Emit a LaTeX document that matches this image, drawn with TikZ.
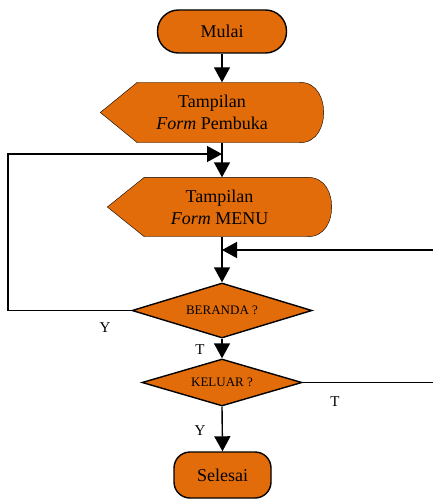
\documentclass[tikz,border=0pt]{standalone}
\usepackage{fontspec}
\setmainfont{Liberation Serif}
\usetikzlibrary{shapes.geometric,arrows.meta,backgrounds}
\definecolor{oranye}{HTML}{E36C0A}
\newcommand{\dispshape}[1]{\filldraw[box] (#1.west) -- ([xshift=37pt]#1.north west) -- ([xshift=-24pt]#1.north east) .. controls ([xshift=-6pt]#1.north east) and ([yshift=13pt]#1.east) .. (#1.east) .. controls ([yshift=-13pt]#1.east) and ([xshift=-6pt]#1.south east) .. ([xshift=-24pt]#1.south east) -- ([xshift=37pt]#1.south west) -- cycle;}

\begin{document}
\begin{tikzpicture}[x=1pt, y=-1pt, line width=1.4pt,
  box/.style = {draw, fill=oranye},
  term/.style = {box, rounded corners=21pt, minimum width=129pt, minimum height=43pt, font=\fontsize{18}{22}\selectfont},
  disp/.style = {align=center, font=\fontsize{18}{22}\selectfont},
  cek/.style = {box, diamond, inner sep=0pt, font=\fontsize{13}{15}\selectfont},
  lbl/.style = {font=\fontsize{15}{17}\selectfont},
  arr/.style = {-{Triangle[length=15pt,width=16pt]}}]
\useasboundingbox (0,0) rectangle (433,500);
\node[term] (mulai) at (222,31.5) {Mulai};
\node[disp, minimum width=222pt, minimum height=59pt] (pembuka) at (212,112.5) {Tampilan\\\textit{Form} Pembuka};
\node[disp, minimum width=223pt, minimum height=58pt] (menu) at (219.5,207) {Tampilan\\\textit{Form} MENU};
\node[cek, aspect=3.3, minimum width=180pt, minimum height=55pt] (beranda) at (222,310.5) {BERANDA ?};
\node[cek, aspect=3.4, minimum width=160pt, minimum height=47pt] (keluar) at (222,382.5) {KELUAR ?};
\node[term, rounded corners=16pt, minimum width=97pt, minimum height=46pt] (selesai) at (222.5,475) {Selesai};
\coordinate (j1) at (222,154);
\coordinate (j2) at (222,250);
\coordinate (lft) at (8,154);
\coordinate (rgt) at (440,250);
\begin{scope}[on background layer]
\dispshape{pembuka}
\dispshape{menu}
\end{scope}
\draw[arr] (mulai.south) -- (mulai.south |- pembuka.north);
\draw[arr] (mulai.south |- pembuka.south) -- (mulai.south |- menu.north);
\draw[arr] (mulai.south |- menu.south) -- (beranda.north);
\draw[arr] (beranda.south) -- (keluar.north);
\draw[arr] (keluar.south) -- (selesai.north);
\draw[arr] (beranda.west) -| (lft) -- (j1);
\draw[arr] (keluar.east) -| (rgt) -- (j2);
\node[lbl] (y1) at (105,328) {Y};
\node[lbl] (t1) at (200,350) {T};
\node[lbl] (t2) at (335,402) {T};
\node[lbl] (y2) at (200,431) {Y};
\end{tikzpicture}
\end{document}
